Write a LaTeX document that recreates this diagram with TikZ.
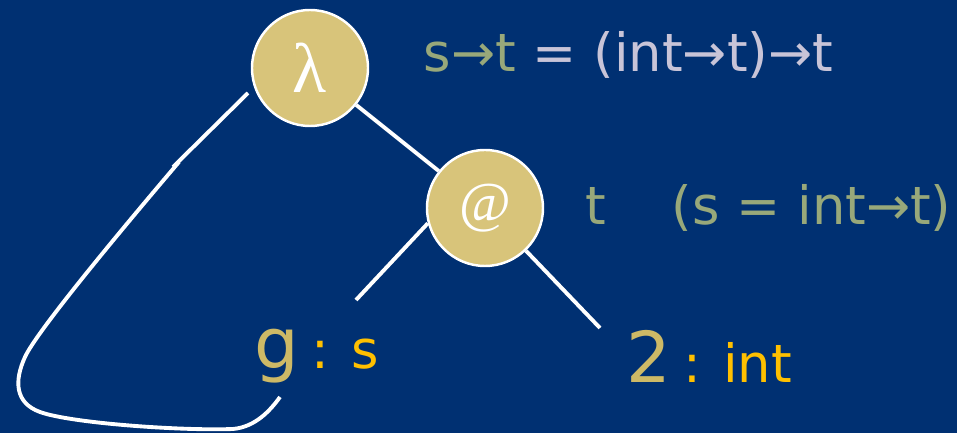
\documentclass[tikz,border=0pt]{standalone}
\usepackage{fontspec}
\setmainfont{DejaVu Sans}
\newfontfamily\greekserif{Liberation Serif}
\usepackage{xcolor}
\usepackage{tikz}
\usetikzlibrary{positioning, calc}

\definecolor{bgblue}{RGB}{0,48,114}
\definecolor{nodetan}{RGB}{216,196,122}
\definecolor{typegreen}{RGB}{152,168,122}
\definecolor{typelav}{RGB}{200,196,216}
\definecolor{varyellow}{RGB}{255,192,0}
\definecolor{vartan}{RGB}{205,185,102}

\begin{document}
\begin{tikzpicture}[
          circ/.style={circle, draw=white, line width=0.7pt, fill=nodetan, minimum size=1.16cm, inner sep=0pt, text=white, font=\greekserif\fontsize{16}{18}\selectfont},
          typ/.style={anchor=base west, inner sep=0pt, font=\fontsize{15}{18}\selectfont},
          var/.style={anchor=base west, inner sep=0pt, text=vartan, font=\fontsize{20}{22}\selectfont},
          edge/.style={draw=white, line width=1.1pt}
        ]
          \useasboundingbox (0,0) rectangle (9.57,4.33);
          \fill[bgblue] (0,0) rectangle (9.57,4.33);

          % Tree nodes
          \node[circ, font=\greekserif\fontsize{20}{22}\selectfont] (lam) at (3.10, 3.65) {λ};
          \node[circ] (app) at (4.85, 2.25) {@};

          % Leaves
          \node[var] (gvar) at (2.54, 0.64) {g\,{\fontsize{15}{18}\selectfont\color{varyellow} : s}};
          \node[var] (two) at (6.26, 0.50) {2\,{\fontsize{15}{18}\selectfont\color{varyellow} : int}};

          % Types
          \node[typ, text=typelav] (lamtype) at (4.23, 3.61) {{\color{typegreen}s→t} = (int→t)→t};
          \node[typ, text=typegreen] (apptype) at (5.85, 2.08) {t};
          \node[typ, text=typegreen] (appeq) at (6.71, 2.08) {(s = int→t)};

          % Free ends
          \coordinate (lamfree) at (2.48, 3.40);
          \coordinate (gtop) at (3.56, 1.33);
          \coordinate (gbot) at (2.80, 0.36);
          \coordinate (twotop) at (6.00, 1.05);

          % Connections
          \draw[edge] (lam) -- (app);
          \draw[edge] (app.195) -- (gtop);
          \draw[edge] (app) -- (twotop);
          \draw[edge] (lamfree) -- (1.73, 2.66) (1.79, 2.71)
            .. controls (1.10, 1.90) and (0.36, 1.00) .. (0.25, 0.76)
            .. controls (0.14, 0.52) and (0.15, 0.30) .. (0.40, 0.21)
            .. controls (0.70, 0.10) and (1.80, 0.02) .. (2.33, 0.04)
            .. controls (2.55, 0.06) and (2.70, 0.22) .. (gbot);
        \end{tikzpicture}
\end{document}
